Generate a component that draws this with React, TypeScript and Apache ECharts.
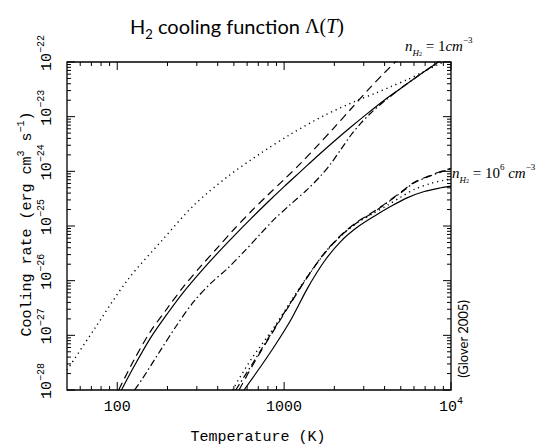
import React, { useEffect, useRef } from 'react';
import * as echarts from 'echarts';

// Axis extents
const X_MIN = 50;
const X_MAX = 10000;
const Y_MIN = 1e-28;
const Y_MAX = 1e-22;
// The y axis is plotted in units of 1e-28 erg cm^3 s^-1 (avoids float rounding at tiny magnitudes)
const Y_UNIT = 1e-28;

// n_H2 = 1 cm^-3 curves (temperature K, cooling rate erg cm^3 s^-1)
const n1SolidT = [106, 126, 158, 200, 251, 316, 398, 501, 631, 794, 1000, 1259, 1585, 1995, 2512, 3162, 3981, 5012, 6310, 7943, 10000];
const n1SolidL = [1.0e-28, 2.69e-28, 8.91e-28, 2.51e-27, 6.31e-27, 1.45e-26, 3.16e-26, 6.61e-26, 1.35e-25, 2.69e-25, 5.25e-25, 1.0e-24, 1.91e-24, 3.55e-24, 6.46e-24, 1.15e-23, 2.0e-23, 3.31e-23, 5.5e-23, 8.91e-23, 1.41e-22];

const n1DashedT = [102, 126, 158, 200, 251, 316, 398, 501, 631, 794, 1000, 1259, 1585, 1995, 2512, 3162, 3981, 5012];
const n1DashedL = [1.0e-28, 3.55e-28, 1.17e-27, 3.16e-27, 7.94e-27, 1.82e-26, 3.98e-26, 8.71e-26, 1.82e-25, 3.63e-25, 7.08e-25, 1.41e-24, 2.95e-24, 6.31e-24, 1.38e-23, 3.02e-23, 6.31e-23, 1.26e-22];

const n1DottedT = [50, 72.4, 115, 186, 288, 457, 724, 1096, 1738, 2754, 3467, 4365, 5495, 6918, 8318, 10000];
const n1DottedL = [2.3e-28, 1.26e-27, 1.02e-26, 5.5e-26, 2.4e-25, 7.94e-25, 2.14e-24, 4.79e-24, 1.05e-23, 2.0e-23, 2.63e-23, 3.55e-23, 4.79e-23, 6.76e-23, 8.91e-23, 1.2e-22];

const n1DashDotT = [127, 141, 182, 229, 288, 363, 457, 575, 724, 871, 1096, 1380, 1660, 1905, 2188, 2512, 2884, 3311, 3981, 5012, 6310, 7943, 10000];
const n1DashDotL = [1.0e-28, 1.58e-28, 5.37e-28, 1.58e-27, 4.17e-27, 8.91e-27, 1.66e-26, 3.39e-26, 7.24e-26, 1.32e-25, 2.51e-25, 4.68e-25, 8.32e-25, 1.38e-24, 2.51e-24, 4.57e-24, 7.59e-24, 1.17e-23, 1.91e-23, 3.31e-23, 5.5e-23, 8.91e-23, 1.41e-22];

// n_H2 = 10^6 cm^-3 curves
const n6SolidT = [575, 724, 871, 1096, 1380, 1738, 2188, 2754, 3467, 4365, 5495, 6918, 8710, 10000];
const n6SolidL = [1.0e-28, 2.69e-28, 6.17e-28, 1.91e-27, 7.24e-27, 2.24e-26, 5.25e-26, 9.55e-26, 1.51e-25, 2.29e-25, 3.31e-25, 4.27e-25, 5.01e-25, 5.37e-25];

const n6DashedT = [537, 661, 871, 1096, 1380, 1738, 2188, 2754, 3467, 4169, 5012, 6026, 7586, 9120, 10000];
const n6DashedL = [1.0e-28, 3.16e-28, 1.26e-27, 3.89e-27, 1.17e-26, 3.16e-26, 6.76e-26, 1.2e-25, 1.86e-25, 2.75e-25, 4.17e-25, 6.31e-25, 8.51e-25, 1.05e-24, 1.12e-24];

const n6DottedT = [490, 631, 871, 1096, 1380, 1738, 2188, 2754, 3467, 4169, 5012, 6026, 7586, 9120, 10000];
const n6DottedL = [1.0e-28, 3.55e-28, 1.41e-27, 4.17e-27, 1.2e-26, 3.16e-26, 6.61e-26, 1.15e-25, 1.74e-25, 2.4e-25, 3.39e-25, 4.68e-25, 6.03e-25, 6.92e-25, 7.24e-25];

const n6DashDotT = [513, 661, 871, 1096, 1380, 1738, 2188, 2754, 3467, 4169, 5012, 6026, 7586, 9120, 10000];
const n6DashDotL = [1.0e-28, 3.39e-28, 1.32e-27, 3.98e-27, 1.17e-26, 3.09e-26, 6.61e-26, 1.17e-25, 1.82e-25, 2.69e-25, 4.07e-25, 6.17e-25, 8.32e-25, 1.02e-24, 1.1e-24];

// Tick positions
const xMajorTicks = [100, 1000, 10000];
const minorMultipliers = [2, 3, 4, 5, 6, 7, 8, 9];
const xDecades = [10, 100, 1000];
const yMajorTicks = [1e-28, 1e-27, 1e-26, 1e-25, 1e-24, 1e-23, 1e-22];
const yDecades = [1e-28, 1e-27, 1e-26, 1e-25, 1e-24, 1e-23];

const MONO = '"Liberation Mono", "DejaVu Sans Mono", monospace';
const SERIF = '"Liberation Serif", "DejaVu Serif", serif';
const SANS = 'Lato, "Open Sans", sans-serif';

const yv = (l: number) => l / Y_UNIT;
const zip = (a: number[], b: number[]) => a.map((v, i) => [v, yv(b[i])]);

export default function App() {
  const ref = useRef<HTMLDivElement>(null);

  useEffect(() => {
    if (!ref.current) return;
    const chart = echarts.init(ref.current, undefined, { renderer: 'svg' });

    const yLo = yv(Y_MIN);
    const yHi = yv(Y_MAX);

    const xTickData: number[][] = [];
    xMajorTicks.forEach((t) => xTickData.push([t, yLo, 1]));
    xDecades.forEach((d) =>
      minorMultipliers.forEach((m) => {
        const v = d * m;
        if (v > X_MIN && v < X_MAX) xTickData.push([v, yLo, 0]);
      })
    );
    const yTickData: number[][] = [];
    yMajorTicks.forEach((t) => yTickData.push([X_MIN, yv(t), 1]));
    yDecades.forEach((d) => minorMultipliers.forEach((m) => yTickData.push([X_MIN, yv(d) * m, 0])));

    const tickStyle = { stroke: '#000', lineWidth: 1 };

    const lineBase = (name: string, data: number[][], type: any, width = 1.2) => ({
      name,
      type: 'line',
      data,
      showSymbol: false,
      symbol: 'none',
      smooth: 0.3,
      clip: true,
      lineStyle: { color: '#000', width, type },
      emphasis: { disabled: true },
      z: 3,
    });

    const supRich = {
      b: { fontFamily: MONO, fontSize: 15, lineHeight: 22, color: '#000' },
      s: { fontFamily: MONO, fontSize: 10, verticalAlign: 'top', color: '#000' },
      p: { width: 18 },
    };

    const option: any = {
      animation: false,
      backgroundColor: '#fff',
      grid: {
        left: 67,
        top: 62,
        width: 384,
        height: 328,
        show: true,
        borderColor: '#000',
        borderWidth: 1.3,
        backgroundColor: 'transparent',
      },
      xAxis: {
        type: 'log',
        logBase: 10,
        min: X_MIN,
        max: X_MAX,
        axisLine: { show: false },
        axisTick: { show: false },
        splitLine: { show: false },
        axisLabel: {
          margin: 6,
          formatter: (v: number) => {
            const e = Math.log10(v);
            const r = Math.round(e);
            if (Math.abs(e - r) > 1e-6) return '';
            if (r === 2) return '{b|100}';
            if (r === 3) return '{b|1000}';
            if (r === 4) return '{b|10}{s|4}';
            return '';
          },
          rich: supRich,
        },
      },
      yAxis: {
        type: 'log',
        logBase: 10,
        min: yLo,
        max: yHi,
        axisLine: { show: false },
        axisTick: { show: false },
        splitLine: { show: false },
        axisLabel: {
          rotate: 90,
          margin: 9,
          formatter: (v: number) => {
            const e = Math.log10(v * Y_UNIT);
            const r = Math.round(e);
            if (Math.abs(e - r) > 1e-6) return '';
            return '{p|}{b|10}{s|\u2212' + Math.abs(r) + '}';
          },
          rich: supRich,
        },
      },
      series: [
        lineBase('n1 solid', zip(n1SolidT, n1SolidL), 'solid'),
        lineBase('n1 dashed', zip(n1DashedT, n1DashedL), [8, 5]),
        lineBase('n1 dotted', zip(n1DottedT, n1DottedL), [1.2, 3.8], 1.4),
        lineBase('n1 dashdot', zip(n1DashDotT, n1DashDotL), [7, 3, 1.5, 3]),
        lineBase('n6 solid', zip(n6SolidT, n6SolidL), 'solid'),
        lineBase('n6 dashed', zip(n6DashedT, n6DashedL), [8, 5]),
        lineBase('n6 dotted', zip(n6DottedT, n6DottedL), [1.2, 3.8], 1.4),
        lineBase('n6 dashdot', zip(n6DashDotT, n6DashDotL), [7, 3, 1.5, 3]),
        {
          name: 'xticks',
          type: 'custom',
          data: xTickData,
          encode: { x: 0, y: 1 },
          silent: true,
          z: 5,
          renderItem: (params: any, api: any) => {
            const v = api.value(0);
            const len = api.value(2) === 1 ? 8 : 4;
            const b = api.coord([v, yLo]);
            const t = api.coord([v, yHi]);
            return {
              type: 'group',
              children: [
                { type: 'line', shape: { x1: b[0], y1: b[1], x2: b[0], y2: b[1] - len }, style: tickStyle },
                { type: 'line', shape: { x1: t[0], y1: t[1], x2: t[0], y2: t[1] + len }, style: tickStyle },
              ],
            };
          },
        },
        {
          name: 'yticks',
          type: 'custom',
          data: yTickData,
          encode: { x: 0, y: 1 },
          silent: true,
          z: 5,
          renderItem: (params: any, api: any) => {
            const v = api.value(1);
            const len = api.value(2) === 1 ? 8 : 4;
            const l = api.coord([X_MIN, v]);
            const r = api.coord([X_MAX, v]);
            return {
              type: 'group',
              children: [
                { type: 'line', shape: { x1: l[0], y1: l[1], x2: l[0] + len, y2: l[1] }, style: tickStyle },
                { type: 'line', shape: { x1: r[0], y1: r[1], x2: r[0] - len, y2: r[1] }, style: tickStyle },
              ],
            };
          },
        },
      ],
      graphic: [
        {
          type: 'text',
          x: 237,
          y: 26,
          style: {
            text: '{a|H}{sub|2}{a| cooling function }{g|\u039b(}{i|T}{g|)}',
            textAlign: 'center',
            textVerticalAlign: 'middle',
            rich: {
              a: { fontFamily: SANS, fontSize: 20, lineHeight: 28, color: '#000' },
              sub: { fontFamily: SANS, fontSize: 13, verticalAlign: 'bottom', color: '#000' },
              g: { fontFamily: SERIF, fontSize: 20, lineHeight: 28, color: '#000' },
              i: { fontFamily: SERIF, fontStyle: 'italic', fontSize: 20, lineHeight: 28, color: '#000' },
            },
          },
        },
        {
          type: 'text',
          x: 258,
          y: 437,
          style: {
            text: 'Temperature (K)',
            font: '15px ' + MONO,
            fill: '#000',
            textAlign: 'center',
            textVerticalAlign: 'middle',
          },
        },
        {
          type: 'text',
          x: 27,
          y: 224,
          rotation: Math.PI / 2,
          style: {
            text: '{b|Cooling rate (erg cm}{s|3}{b| s}{s|\u22121}{b|)}',
            textAlign: 'center',
            textVerticalAlign: 'middle',
            rich: supRich,
          },
        },
        {
          type: 'text',
          x: 405,
          y: 46,
          style: {
            text: '{n|n}{h|H}{h2|2}{t| = 1}{i|cm}{s|\u22123}',
            textAlign: 'left',
            textVerticalAlign: 'middle',
            rich: {
              n: { fontFamily: SERIF, fontStyle: 'italic', fontSize: 15, lineHeight: 22, color: '#000' },
              h: { fontFamily: SERIF, fontStyle: 'italic', fontSize: 9, verticalAlign: 'bottom', color: '#000' },
              h2: { fontFamily: SERIF, fontSize: 6, verticalAlign: 'bottom', color: '#000' },
              t: { fontFamily: SERIF, fontSize: 15, lineHeight: 22, color: '#000' },
              i: { fontFamily: SERIF, fontStyle: 'italic', fontSize: 15, lineHeight: 22, color: '#000' },
              s: { fontFamily: SERIF, fontSize: 9, verticalAlign: 'top', color: '#000' },
            },
          },
        },
        {
          type: 'text',
          x: 452,
          y: 173,
          style: {
            text: '{n|n}{h|H}{h2|2}{t| = 10}{s|6}{t| }{i|cm}{s|\u22123}',
            textAlign: 'left',
            textVerticalAlign: 'middle',
            rich: {
              n: { fontFamily: SERIF, fontStyle: 'italic', fontSize: 15, lineHeight: 22, color: '#000' },
              h: { fontFamily: SERIF, fontStyle: 'italic', fontSize: 9, verticalAlign: 'bottom', color: '#000' },
              h2: { fontFamily: SERIF, fontSize: 6, verticalAlign: 'bottom', color: '#000' },
              t: { fontFamily: SERIF, fontSize: 15, lineHeight: 22, color: '#000' },
              i: { fontFamily: SERIF, fontStyle: 'italic', fontSize: 15, lineHeight: 22, color: '#000' },
              s: { fontFamily: SERIF, fontSize: 9, verticalAlign: 'top', color: '#000' },
            },
          },
        },
        {
          type: 'text',
          x: 463,
          y: 339,
          rotation: Math.PI / 2,
          style: {
            text: '(Glover 2005)',
            font: '13px ' + SANS,
            fill: '#000',
            textAlign: 'center',
            textVerticalAlign: 'middle',
          },
        },
      ],
    };

    chart.setOption(option);
    return () => chart.dispose();
  }, []);

  return (
    <div
      ref={ref}
      style={{ position: 'fixed', left: 0, top: 0, width: 552, height: 448, background: '#fff' }}
    />
  );
}
